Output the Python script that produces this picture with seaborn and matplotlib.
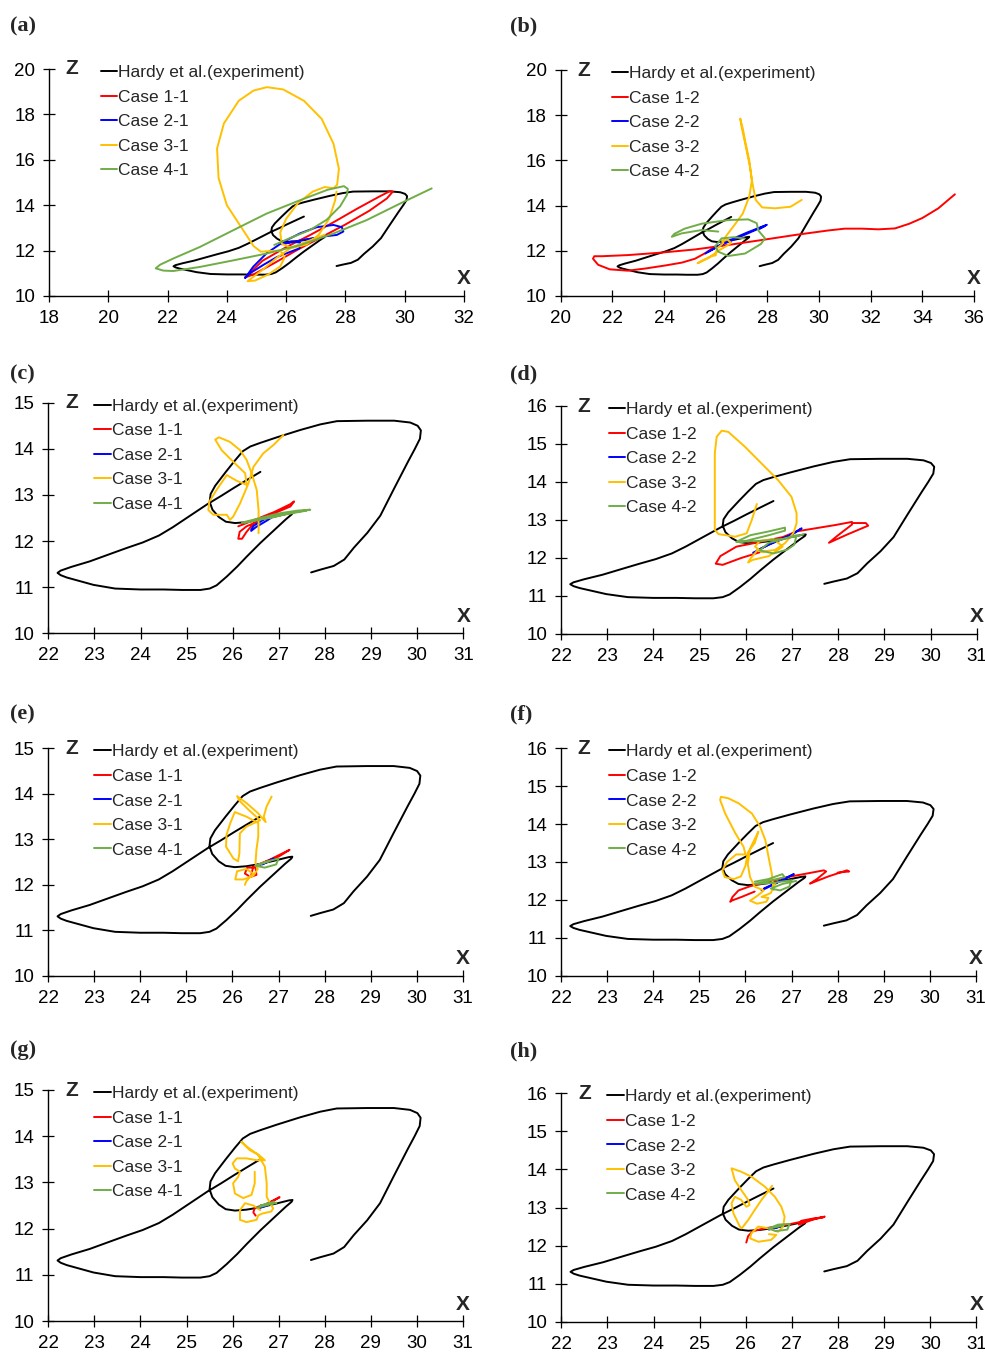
import matplotlib
matplotlib.use("Agg")
import matplotlib.pyplot as plt
import seaborn as sns

# ---------------------------------------------------------------------------
# Trajectories in the X-Z plane, stored as (x, z) points in drawing order.
# ---------------------------------------------------------------------------

# Experimental trajectory (Hardy et al.), identical in every panel
hardy = [
    (26.6, 13.5), (26.3, 13.32), (26.02, 13.15), (25.75, 12.98), (25.45, 12.8),
    (25.0, 12.5), (24.7, 12.3), (24.4, 12.12), (24.05, 11.97), (23.7, 11.85),
    (23.34, 11.72), (22.9, 11.56), (22.5, 11.44), (22.27, 11.36), (22.2, 11.31),
    (22.27, 11.26), (22.4, 11.21), (22.98, 11.05), (23.45, 10.97), (24.0, 10.95),
    (24.5, 10.95), (24.9, 10.94), (25.3, 10.94), (25.5, 10.97), (25.65, 11.04),
    (25.87, 11.23), (26.1, 11.45), (26.31, 11.67), (26.6, 11.96), (26.88, 12.22),
    (27.15, 12.47), (27.28, 12.58), (27.3, 12.62), (27.22, 12.61), (26.9, 12.53),
    (26.6, 12.46), (26.3, 12.41), (26.05, 12.39), (25.85, 12.42), (25.7, 12.52),
    (25.56, 12.68), (25.5, 12.85), (25.52, 13.02), (25.62, 13.2), (25.85, 13.5),
    (26.05, 13.75), (26.22, 13.95), (26.38, 14.05), (26.6, 14.13), (26.96, 14.25),
    (27.47, 14.41), (27.9, 14.53), (28.26, 14.6), (28.92, 14.61), (29.5, 14.61),
    (29.85, 14.57), (30.01, 14.5), (30.08, 14.4), (30.06, 14.22), (29.95, 14.0),
    (29.8, 13.72), (29.5, 13.14), (29.2, 12.55), (28.92, 12.18), (28.63, 11.86),
    (28.42, 11.6), (28.19, 11.46), (27.9, 11.38), (27.7, 11.32),
]

# ---- panel (a) -------------------------------------------------------------
a_case11 = [
    (24.62, 10.82), (25.2, 11.55), (26.0, 12.15), (26.8, 12.68), (27.6, 13.25),
    (28.4, 13.85), (29.1, 14.35), (29.5, 14.62), (29.6, 14.6), (29.4, 14.3),
    (28.8, 13.75), (28.0, 13.15), (27.2, 12.6), (26.4, 12.05), (25.6, 11.45),
    (24.9, 10.95), (24.62, 10.82),
]
a_case21 = [
    (24.62, 10.8), (24.89, 11.29), (25.34, 11.88), (25.91, 12.39), (26.47, 12.76),
    (27.03, 13.03), (27.6, 13.13), (27.88, 13.03), (27.93, 12.84), (27.71, 12.69),
    (27.26, 12.62), (26.69, 12.5), (26.24, 12.38), (25.85, 12.28), (26.2, 12.4),
    (26.47, 12.35), (26.45, 12.1), (26.07, 11.91), (25.68, 11.71), (25.23, 11.37),
    (24.78, 11.0), (24.62, 10.8),
]
a_case31 = [
    (27.3, 12.7), (26.8, 12.45), (26.2, 12.15), (25.7, 11.7), (25.2, 11.15),
    (24.8, 10.75), (24.7, 10.65), (24.95, 10.68), (25.4, 10.95), (25.8, 11.3),
    (25.95, 11.7), (25.8, 12.0), (25.45, 11.98), (25.15, 11.95), (24.9, 12.2),
    (24.5, 13.0), (24.0, 14.0), (23.72, 15.2), (23.67, 16.5), (23.9, 17.6),
    (24.4, 18.6), (24.9, 19.05), (25.35, 19.2), (25.9, 19.1), (26.6, 18.6),
    (27.2, 17.8), (27.6, 16.7), (27.78, 15.6), (27.72, 14.9), (27.6, 14.75),
    (27.3, 14.8), (26.9, 14.6), (26.4, 14.1), (26.0, 13.4), (25.8, 12.8),
    (25.85, 12.3), (26.2, 12.12), (26.7, 12.27), (27.1, 12.7), (27.45, 13.4),
    (27.65, 14.2), (27.7, 14.6),
]
a_case41 = [
    (25.6, 12.25), (26.13, 12.55), (26.81, 12.91), (27.37, 13.36), (27.82, 13.95),
    (28.05, 14.45), (28.08, 14.72), (27.95, 14.84), (27.4, 14.68), (26.47, 14.22),
    (25.34, 13.63), (24.22, 12.9), (23.09, 12.16), (22.19, 11.65), (21.75, 11.38),
    (21.6, 11.22), (21.85, 11.12), (22.19, 11.1), (23.09, 11.28), (24.22, 11.57),
    (25.34, 11.87), (26.47, 12.24), (27.59, 12.75), (28.71, 13.34), (29.84, 14.07),
    (30.91, 14.74),
]

# ---- panel (b) -------------------------------------------------------------
b_case12 = [
    (26.0, 12.2), (25.6, 11.9), (25.2, 11.65), (24.7, 11.48), (24.1, 11.36),
    (23.3, 11.22), (22.6, 11.12), (21.9, 11.18), (21.45, 11.38), (21.25, 11.65),
    (21.3, 11.76), (21.6, 11.76), (22.6, 11.81), (23.9, 11.92), (25.2, 12.06),
    (26.5, 12.26), (27.8, 12.48), (29.07, 12.7), (30.36, 12.9), (31.0, 12.98),
    (31.65, 12.98), (32.3, 12.95), (32.94, 12.99), (33.5, 13.2), (34.0, 13.45),
    (34.62, 13.88), (35.26, 14.5),
]
b_case22 = [
    (25.6, 11.88), (26.3, 12.35), (27.2, 12.8), (27.98, 13.15), (27.7, 12.98),
    (27.9, 13.1), (27.0, 12.65), (26.2, 12.25), (25.7, 11.95),
]
b_case32 = [
    (29.33, 14.25), (28.9, 13.95), (28.3, 13.88), (27.8, 13.92), (27.55, 14.25),
    (27.42, 15.0), (27.33, 15.7), (27.15, 16.7), (27.0, 17.5), (26.95, 17.85),
    (27.05, 17.4), (27.15, 16.8), (27.3, 16.0), (27.4, 15.1), (27.3, 14.4),
    (27.05, 13.65), (26.7, 13.1), (26.4, 12.65), (26.25, 12.4), (26.45, 12.5),
    (26.6, 12.35), (26.4, 12.2), (26.1, 12.0), (25.75, 11.7), (25.4, 11.5),
    (25.3, 11.45), (25.45, 11.55), (25.8, 11.75), (26.0, 11.8), (26.05, 12.1),
    (26.3, 12.35),
]
b_case42 = [
    (26.1, 12.85), (25.46, 12.92), (24.68, 12.77), (24.3, 12.62), (24.4, 12.75),
    (24.8, 12.98), (25.46, 13.2), (26.49, 13.36), (27.26, 13.39), (27.59, 13.22),
    (27.65, 12.9), (27.91, 12.55), (27.75, 12.3), (27.14, 11.88), (26.49, 11.77),
    (26.1, 11.96), (25.98, 12.2), (26.23, 12.55), (26.7, 12.6), (27.1, 12.55),
]

# ---- panel (c) -------------------------------------------------------------
c_case11 = [
    (26.12, 12.32), (26.45, 12.45), (26.9, 12.63), (27.25, 12.8), (27.33, 12.86),
    (27.25, 12.75), (26.85, 12.58), (26.45, 12.38), (26.3, 12.2), (26.2, 12.05),
    (26.12, 12.05), (26.15, 12.2), (26.3, 12.32), (26.6, 12.45),
]
c_case21 = [
    (26.4, 12.22), (26.5, 12.3), (26.75, 12.45), (26.95, 12.58), (26.7, 12.48),
    (26.45, 12.33), (26.4, 12.25),
]
c_case31 = [
    (27.1, 14.3), (26.88, 14.08), (26.66, 13.9), (26.45, 13.61), (26.34, 13.25),
    (26.16, 12.82), (26.01, 12.53), (25.94, 12.46), (25.87, 12.57), (25.58, 12.57),
    (25.47, 12.67), (25.49, 12.85), (25.65, 13.11), (25.87, 13.43), (26.1, 13.3),
    (26.3, 13.22), (26.27, 13.47), (26.01, 13.72), (25.76, 13.97), (25.62, 14.2),
    (25.7, 14.25), (25.94, 14.15), (26.16, 13.97), (26.3, 13.76), (26.41, 13.47),
    (26.52, 13.11), (26.56, 12.67), (26.56, 12.17),
]
c_case41 = [
    (26.2, 12.4), (26.6, 12.5), (27.0, 12.6), (27.4, 12.66), (27.68, 12.68),
    (27.3, 12.62), (26.9, 12.52), (26.5, 12.45), (26.25, 12.4), (26.6, 12.47),
    (27.1, 12.57), (27.6, 12.66),
]

# ---- panel (d) -------------------------------------------------------------
d_case12 = [
    (26.3, 12.15), (25.9, 12.0), (25.5, 11.82), (25.35, 11.85), (25.45, 12.05),
    (25.8, 12.3), (26.3, 12.42), (26.8, 12.55), (27.1, 12.7), (27.5, 12.78),
    (27.95, 12.87), (28.3, 12.95), (28.3, 12.88), (28.0, 12.6), (27.8, 12.4),
    (28.2, 12.62), (28.65, 12.85), (28.6, 12.92), (28.3, 12.92),
]
d_case22 = [
    (26.16, 12.14), (26.5, 12.35), (26.9, 12.55), (27.21, 12.78), (27.0, 12.62),
    (26.6, 12.42), (26.25, 12.2),
]
d_case32 = [
    (26.24, 13.42), (26.13, 13.0), (26.02, 12.65), (25.77, 12.56), (25.41, 12.63),
    (25.33, 12.74), (25.33, 13.7), (25.33, 14.75), (25.37, 15.19), (25.48, 15.35),
    (25.62, 15.32), (25.98, 14.93), (26.34, 14.49), (26.7, 14.05), (26.99, 13.61),
    (27.1, 13.18), (27.1, 12.91), (27.03, 12.65), (26.85, 12.39), (26.63, 12.21),
    (26.34, 12.17), (26.2, 12.3), (26.3, 12.45), (26.6, 12.5), (26.8, 12.3),
    (26.5, 12.05), (26.15, 11.95), (26.05, 11.88), (26.1, 11.98), (26.25, 12.2),
    (26.4, 12.15),
]
d_case42 = [
    (25.8, 12.43), (26.1, 12.6), (26.5, 12.7), (26.85, 12.8), (26.85, 12.72),
    (26.5, 12.6), (26.0, 12.45), (25.8, 12.42), (26.3, 12.45), (26.8, 12.5),
    (27.1, 12.6), (27.05, 12.35), (26.9, 12.22), (26.6, 12.12), (26.3, 12.2),
    (26.5, 12.4), (27.0, 12.55), (27.25, 12.62),
]

# ---- panel (e) -------------------------------------------------------------
e_case11 = [
    (26.35, 12.2), (26.27, 12.25), (26.32, 12.38), (26.5, 12.38), (26.52, 12.22),
    (26.4, 12.18), (26.45, 12.4), (26.8, 12.55), (27.1, 12.7), (27.24, 12.77),
    (27.0, 12.62), (26.7, 12.5),
]
e_case21 = [(26.55, 12.42), (26.75, 12.5), (26.9, 12.58), (26.65, 12.45)]
e_case31 = [
    (26.85, 13.94), (26.74, 13.72), (26.68, 13.5), (26.72, 13.38), (26.55, 13.58),
    (26.3, 13.8), (26.1, 13.95), (26.15, 13.85), (26.35, 13.65), (26.6, 13.42),
    (26.45, 13.35), (26.3, 13.28), (26.16, 13.13), (26.15, 12.69), (26.12, 12.52),
    (26.02, 12.58), (25.86, 12.84), (25.87, 13.1), (25.95, 13.35), (26.05, 13.6),
    (26.3, 13.5), (26.56, 13.36), (26.56, 13.06), (26.52, 12.77), (26.5, 12.47),
    (26.55, 12.35), (26.45, 12.2), (26.24, 12.12), (26.06, 12.12), (26.1, 12.3),
    (26.3, 12.35), (26.45, 12.25), (26.3, 12.08), (26.27, 12.0),
]
e_case41 = [
    (26.5, 12.42), (26.7, 12.5), (27.0, 12.58), (26.95, 12.45), (26.7, 12.38),
    (26.5, 12.42), (26.8, 12.52),
]

# ---- panel (f) -------------------------------------------------------------
f_case12 = [
    (26.2, 12.22), (25.92, 12.08), (25.7, 11.98), (25.67, 11.95), (25.72, 12.08),
    (25.85, 12.25), (26.1, 12.36), (26.4, 12.45), (26.9, 12.6), (27.35, 12.7),
    (27.7, 12.78), (27.75, 12.75), (27.55, 12.55), (27.4, 12.43), (27.8, 12.62),
    (28.2, 12.78), (28.25, 12.75), (28.0, 12.72),
]
f_case22 = [
    (26.35, 12.25), (26.65, 12.43), (27.05, 12.68), (26.75, 12.5), (26.4, 12.3),
]
f_case32 = [
    (26.61, 12.26), (26.57, 12.7), (26.5, 13.14), (26.43, 13.58), (26.32, 13.93),
    (26.14, 14.28), (25.85, 14.55), (25.63, 14.68), (25.47, 14.72), (25.45, 14.64),
    (25.56, 14.28), (25.78, 13.76), (25.96, 13.4), (26.0, 13.2), (25.8, 13.2),
    (25.6, 13.0), (25.5, 12.78), (25.55, 12.6), (25.75, 12.55), (25.9, 12.62),
    (26.0, 12.9), (26.05, 13.25), (26.2, 13.5), (26.28, 13.8), (26.2, 13.6),
    (26.1, 13.35), (26.05, 12.95), (26.1, 12.6), (26.2, 12.35), (26.4, 12.25),
    (26.25, 12.1), (26.1, 11.98), (26.25, 11.9), (26.45, 11.95), (26.5, 12.05),
    (26.35, 12.08), (26.55, 12.18), (26.65, 12.45),
]
f_case42 = [
    (26.2, 12.48), (26.5, 12.55), (26.8, 12.68), (26.85, 12.6), (26.5, 12.5),
    (26.2, 12.42), (26.6, 12.45), (27.0, 12.52), (26.95, 12.35), (26.75, 12.25),
    (26.55, 12.3), (26.8, 12.42), (27.1, 12.5),
]

# ---- panel (g) -------------------------------------------------------------
g_case11 = [
    (26.5, 12.28), (26.45, 12.35), (26.48, 12.45), (26.7, 12.52), (27.02, 12.68),
    (26.8, 12.55),
]
g_case21 = [(26.6, 12.45), (26.75, 12.5)]
g_case31 = [
    (26.48, 13.23), (26.48, 12.98), (26.41, 12.73), (26.23, 12.66), (26.05, 12.76),
    (26.01, 12.98), (26.12, 13.12), (26.16, 13.23), (26.05, 13.3), (26.0, 13.41),
    (26.09, 13.52), (26.3, 13.52), (26.52, 13.48), (26.7, 13.48), (26.56, 13.6),
    (26.37, 13.7), (26.19, 13.88), (26.3, 13.78), (26.55, 13.6), (26.7, 13.34),
    (26.74, 12.98), (26.74, 12.69), (26.81, 12.55), (26.88, 12.44), (26.84, 12.37),
    (26.66, 12.33), (26.56, 12.29), (26.52, 12.19), (26.3, 12.14), (26.16, 12.19),
    (26.16, 12.4), (26.27, 12.55), (26.45, 12.5), (26.6, 12.4),
]
g_case41 = [(26.52, 12.45), (26.95, 12.56), (26.6, 12.5), (26.9, 12.58)]

# ---- panel (h) -------------------------------------------------------------
h_case12 = [
    (26.01, 12.08), (26.05, 12.25), (26.15, 12.38), (26.4, 12.45), (26.9, 12.55),
    (27.3, 12.65), (27.71, 12.76), (27.45, 12.68), (27.15, 12.55), (27.2, 12.65),
    (27.5, 12.72), (27.68, 12.74),
]
h_case22 = [(26.5, 12.42), (26.75, 12.5), (26.55, 12.45)]
h_case32 = [
    (26.57, 13.57), (26.48, 13.42), (26.34, 13.2), (26.19, 12.93), (26.05, 12.67),
    (25.91, 12.45), (25.87, 12.5), (25.73, 12.85), (25.69, 13.11), (25.76, 13.28),
    (25.9, 13.2), (26.01, 13.02), (26.08, 13.06), (26.05, 13.2), (25.9, 13.46),
    (25.76, 13.72), (25.69, 14.03), (25.9, 13.94), (26.12, 13.81), (26.41, 13.55),
    (26.63, 13.28), (26.77, 13.02), (26.84, 12.76), (26.81, 12.5), (26.7, 12.36),
    (26.5, 12.45), (26.27, 12.5), (26.12, 12.32), (26.09, 12.19), (26.27, 12.1),
    (26.55, 12.15), (26.66, 12.28), (26.5, 12.3),
]
h_case42 = [
    (26.5, 12.45), (26.7, 12.55), (26.95, 12.57), (26.9, 12.42), (26.65, 12.38),
    (26.5, 12.45), (26.8, 12.52),
]

# Axis ranges and ticks
ticks_x_a = list(range(18, 33, 2))
ticks_x_b = list(range(20, 37, 2))
ticks_z_ab = list(range(10, 21, 2))
ticks_x_fine = list(range(22, 32))
ticks_z_15 = list(range(10, 16))
ticks_z_16 = list(range(10, 17))

# ---------------------------------------------------------------------------
# Figure
# ---------------------------------------------------------------------------
sns.set_style("ticks")
plt.rcParams["font.family"] = ["Liberation Sans", "DejaVu Sans"]

W, H = 985, 1353
fig = plt.figure(figsize=(W / 100, H / 100), dpi=100)

C_EXP = "#000000"
C1, C2, C3, C4 = "#FF0000", "#0000FF", "#FFC000", "#70AD47"

# box = (left, top, right, bottom) of the plotting area in pixels;
# leg = horizontal offset of the legend from the Z axis in pixels
panels = [
    dict(tag="(a)", box=(49, 69, 464, 296), xt=ticks_x_a, zt=ticks_z_ab, run="1", leg=52,
         cases=[a_case11, a_case21, a_case31, a_case41]),
    dict(tag="(b)", box=(560.7, 70, 974, 296), xt=ticks_x_b, zt=ticks_z_ab, run="2", leg=51,
         cases=[b_case12, b_case22, b_case32, b_case42]),
    dict(tag="(c)", box=(48.3, 402.7, 463.3, 633.3), xt=ticks_x_fine, zt=ticks_z_15, run="1", leg=46,
         cases=[c_case11, c_case21, c_case31, c_case41]),
    dict(tag="(d)", box=(561, 406, 976.7, 634), xt=ticks_x_fine, zt=ticks_z_16, run="2", leg=48,
         cases=[d_case12, d_case22, d_case32, d_case42]),
    dict(tag="(e)", box=(48.3, 748.3, 462.7, 976), xt=ticks_x_fine, zt=ticks_z_15, run="1", leg=46,
         cases=[e_case11, e_case21, e_case31, e_case41]),
    dict(tag="(f)", box=(561, 748.3, 976, 975.7), xt=ticks_x_fine, zt=ticks_z_16, run="2", leg=48,
         cases=[f_case12, f_case22, f_case32, f_case42]),
    dict(tag="(g)", box=(48.3, 1090, 463, 1321), xt=ticks_x_fine, zt=ticks_z_15, run="1", leg=46,
         cases=[g_case11, g_case21, g_case31, g_case41]),
    dict(tag="(h)", box=(561.3, 1093.3, 976.5, 1321.7), xt=ticks_x_fine, zt=ticks_z_16, run="2", leg=46,
         cases=[h_case12, h_case22, h_case32, h_case42]),
]

tag_pos = {"(a)": (10, 26), "(b)": (510, 26), "(c)": (10, 374), "(d)": (510, 374),
           "(e)": (10, 714), "(f)": (510, 714), "(g)": (10, 1050), "(h)": (510, 1051)}

for p in panels:
    l, t, r, b = p["box"]
    ax = fig.add_axes([l / W, 1 - b / H, (r - l) / W, (b - t) / H])

    series = [("Hardy et al.(experiment)", hardy, C_EXP)]
    for k, (pts, col) in enumerate(zip(p["cases"], [C1, C2, C3, C4])):
        series.append((f"Case {k + 1}-{p['run']}", pts, col))

    for label, pts, col in series:
        xs = [q[0] for q in pts]
        zs = [q[1] for q in pts]
        sns.lineplot(x=xs, y=zs, sort=False, estimator=None, color=col,
                     linewidth=1.4, ax=ax, label=label)

    ax.set_xlim(p["xt"][0], p["xt"][-1])
    ax.set_ylim(p["zt"][0], p["zt"][-1])
    ax.set_xticks(p["xt"])
    ax.set_yticks(p["zt"])
    ax.set_xlabel("")
    ax.set_ylabel("")
    for side in ("top", "right"):
        ax.spines[side].set_visible(False)
    for side in ("left", "bottom"):
        ax.spines[side].set_linewidth(1.0)
        ax.spines[side].set_color("black")
    ax.tick_params(direction="inout", length=8, width=0.9, labelsize=13.5,
                   pad=6, colors="black")

    ax.legend(loc="upper left", bbox_to_anchor=((l + p["leg"]) / W, 1 - (t - 4) / H),
              bbox_transform=fig.transFigure, frameon=False, handlelength=0.95,
              handletextpad=0.05, labelspacing=0.54, borderpad=0,
              borderaxespad=0, fontsize=12.5)

    ax.annotate("Z", xy=(0, 1), xycoords="axes fraction", xytext=(23, 0),
                textcoords="offset pixels", ha="center", va="center",
                fontsize=15, fontweight="bold")
    ax.annotate("X", xy=(1, 0), xycoords="axes fraction", xytext=(0, 17),
                textcoords="offset pixels", ha="center", va="center",
                fontsize=15, fontweight="bold")

    tx, ty = tag_pos[p["tag"]]
    fig.text(tx / W, 1 - ty / H, p["tag"], family=["Liberation Serif", "DejaVu Serif"],
             fontweight="bold", fontsize=16, ha="left", va="center")

fig.savefig("out.png", dpi=100)
